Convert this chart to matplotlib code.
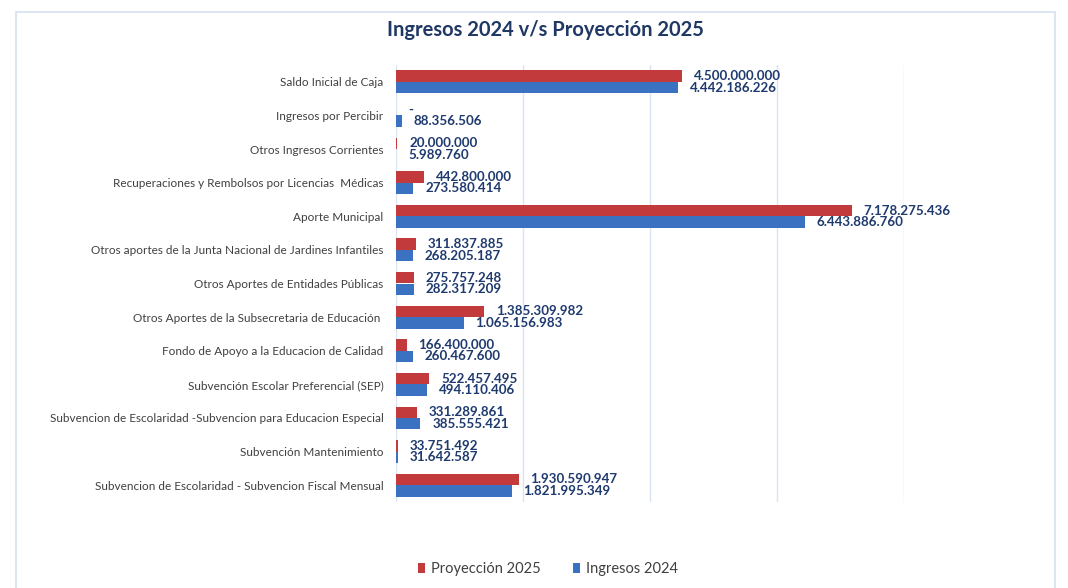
import numpy as np
import matplotlib
matplotlib.use("Agg")
import matplotlib.pyplot as plt
from matplotlib.patches import Rectangle

categories = [
    "Saldo Inicial de Caja",
    "Ingresos por Percibir",
    "Otros Ingresos Corrientes",
    "Recuperaciones y Rembolsos por Licencias  Médicas",
    "Aporte Municipal",
    "Otros aportes de la Junta Nacional de Jardines Infantiles",
    "Otros Aportes de Entidades Públicas",
    "Otros Aportes de la Subsecretaria de Educación ",
    "Fondo de Apoyo a la Educacion de Calidad",
    "Subvención Escolar Preferencial (SEP)",
    "Subvencion de Escolaridad -Subvencion para Educacion Especial",
    "Subvención Mantenimiento",
    "Subvencion de Escolaridad - Subvencion Fiscal Mensual",
]
proyeccion_2025 = [4500000000, 0, 20000000, 442800000, 7178275436, 311837885,
                   275757248, 1385309982, 166400000, 522457495, 331289861,
                   33751492, 1930590947]
ingresos_2024 = [4442186226, 88356506, 5989760, 273580414, 6443886760, 268205187,
                 282317209, 1065156983, 260467600, 494110406, 385555421,
                 31642587, 1821995349]
grid_ticks = [0, 2e9, 4e9, 6e9, 8e9]

RED = "#C23A3B"
BLUE = "#3A71C1"
LABEL = "#1F3A6E"
TEXT = "#404040"


def fmt(v):
    if v == 0:
        return "-"
    return f"{v:,.0f}".replace(",", ".")


plt.rcParams['font.family'] = ['Lato', 'DejaVu Sans']

fig = plt.figure(figsize=(10.68, 5.88), dpi=100)
fig.patches.append(Rectangle((16 / 1068, -0.02), (1055 - 16) / 1068, (588 - 12) / 588 + 0.02,
                             transform=fig.transFigure, fill=False,
                             edgecolor="#D5E0EE", linewidth=1.2))

ax = fig.add_axes([396 / 1068, 1 - 502 / 588, (904 - 396) / 1068, (502 - 65) / 588])

y = np.arange(len(categories))
h = 0.34
bars_r = ax.barh(y - h / 2, proyeccion_2025, height=h, color=RED, label="Proyección 2025", zorder=3)
bars_b = ax.barh(y + h / 2, ingresos_2024, height=h, color=BLUE, label="Ingresos 2024", zorder=3)

for bars, vals in ((bars_r, proyeccion_2025), (bars_b, ingresos_2024)):
    for b, v in zip(bars, vals):
        ax.annotate(fmt(v), (v, b.get_y() + b.get_height() / 2), xytext=(8.5, 0),
                    textcoords="offset points", ha="left", va="center",
                    fontsize=9.6, fontweight="bold", color=LABEL,
                    annotation_clip=False, clip_on=False)

ax.set_xlim(0, 8e9)
ax.set_ylim(len(categories) - 0.5, -0.5)
ax.set_xticks(grid_ticks)
ax.set_xticklabels([])
ax.tick_params(axis="x", length=0)
ax.set_yticks(y)
ax.set_yticklabels(categories, fontsize=8.5, color=TEXT)
ax.tick_params(axis="y", length=0, pad=9)
ax.grid(axis="x", color="#D9E3F1", linewidth=1, zorder=0)
for s in ax.spines.values():
    s.set_visible(False)

fig.text(545 / 1068, 1 - 30 / 588, "Ingresos 2024 v/s Proyección 2025", ha="center", va="center",
         fontsize=14.5, fontweight="bold", color="#1F3864")

fig.legend(handles=[bars_r, bars_b], labels=["Proyección 2025", "Ingresos 2024"],
           loc="center", bbox_to_anchor=(548 / 1068, 1 - 569 / 588), ncol=2, frameon=False,
           fontsize=10.5, handlelength=0.5, handleheight=0.7, handletextpad=0.4,
           columnspacing=2.2, labelcolor=TEXT)

fig.savefig("out.png", dpi=100)
